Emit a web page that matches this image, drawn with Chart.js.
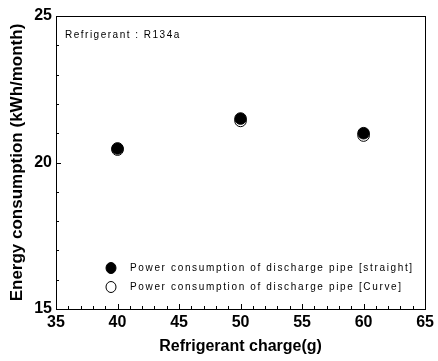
<!DOCTYPE html>
<html><head><meta charset="utf-8">
<script src="https://cdn.jsdelivr.net/npm/chart.js@4/dist/chart.umd.min.js"></script>
<style>html,body{margin:0;padding:0;background:#fff;}#wrap{width:438px;height:361px;}</style>
</head><body><div id="wrap"><canvas id="c" width="438" height="361"></canvas></div>
<script>
const charges = [40, 50, 60];
const straightValues = [20.48, 21.5, 21.0];
const curveValues = [20.44, 21.42, 20.92];
const xTicks = [35, 40, 45, 50, 55, 60, 65];
const yTicks = [15, 20, 25];
const seriesNames = ['Power consumption of discharge pipe [straight]', 'Power consumption of discharge pipe [Curve]'];
const annotationText = 'Refrigerant : R134a';

const FONT = '"Liberation Sans", Arial, sans-serif';

const decor = {
  id: 'decor',
  afterDraw(chart) {
    const ctx = chart.ctx, a = chart.chartArea;
    const xs = chart.scales.x, ys = chart.scales.y;
    ctx.save();
    ctx.strokeStyle = '#000'; ctx.lineWidth = 1;
    ctx.strokeRect(Math.round(a.left)+0.5, Math.round(a.top)+0.5, Math.round(a.right-a.left), Math.round(a.bottom-a.top));
    ctx.beginPath();
    for (let v = xs.min; v <= xs.max; v += 1) {
      const px = Math.round(xs.getPixelForValue(v)) + 0.5;
      const len = (v % 5 === 0) ? 5 : 3;
      ctx.moveTo(px, a.bottom); ctx.lineTo(px, a.bottom - len);
    }
    for (let v = ys.min; v <= ys.max; v += 1) {
      const py = Math.round(ys.getPixelForValue(v)) + 0.5;
      const len = (v % 5 === 0) ? 5 : 3;
      ctx.moveTo(a.left, py); ctx.lineTo(a.left + len, py);
    }
    ctx.stroke();
    // annotation
    ctx.fillStyle = '#000';
    ctx.font = '10px ' + FONT;
    ctx.letterSpacing = '1.5px';
    ctx.textBaseline = 'middle';
    ctx.textAlign = 'left';
    ctx.fillText(annotationText, a.left + 9, a.top + 19);
    // legend
    const styles = [
      {bg: '#000', border: '#000'},
      {bg: '#fff', border: '#000'}
    ];
    const lx = a.left + 55, ly0 = a.top + 252;
    ctx.letterSpacing = '1.65px';
    for (let i = 0; i < 2; i++) {
      const y = ly0 + i * 19;
      ctx.fillStyle = styles[i].bg; ctx.strokeStyle = styles[i].border; ctx.lineWidth = 1;
      ctx.beginPath(); ctx.ellipse(lx, y, 5, 5.5, 0, 0, Math.PI*2); ctx.fill(); ctx.stroke();
      ctx.fillStyle = '#000';
      ctx.fillText(seriesNames[i], lx + 19, y);
    }
    ctx.restore();
  }
};

new Chart(document.getElementById('c'), {
  type: 'scatter',
  data: {
    datasets: [
      { label: seriesNames[0], data: charges.map((x,i)=>({x, y: straightValues[i]})),
        pointRadius: 5.8, pointBackgroundColor: '#000', pointBorderColor: '#000', pointBorderWidth: 1 },
      { label: seriesNames[1], data: charges.map((x,i)=>({x, y: curveValues[i]})),
        pointRadius: 5.8, pointBackgroundColor: '#fff', pointBorderColor: '#000', pointBorderWidth: 1 }
    ]
  },
  options: {
    responsive: false, animation: false, devicePixelRatio: 1,
    layout: { padding: { left: 0, top: 16, right: 8, bottom: 0 } },
    plugins: { legend: { display: false }, tooltip: { enabled: false } },
    scales: {
      x: {
        type: 'linear', min: 35, max: 65,
        afterBuildTicks: s => { s.ticks = xTicks.map(v => ({value: v})); },
        afterFit: s => { s.height = 52; },
        grid: { display: false, drawTicks: false },
        border: { display: false },
        ticks: { color: '#000', font: { family: FONT, size: 16, weight: 'bold' }, padding: 4, maxRotation: 0 },
        title: { display: true, text: 'Refrigerant charge(g)', color: '#000', font: { family: FONT, size: 16, weight: 'bold' }, padding: { top: 0, bottom: 5 } }
      },
      y: {
        type: 'linear', min: 15, max: 25,
        afterBuildTicks: s => { s.ticks = yTicks.map(v => ({value: v})); },
        afterFit: s => { s.width = 56; },
        grid: { display: false, drawTicks: false },
        border: { display: false },
        ticks: { color: '#000', font: { family: FONT, size: 16, weight: 'bold' }, padding: 4 },
        title: { display: true, text: 'Energy consumption (kWh/month)', color: '#000', font: { family: FONT, size: 17, weight: 'bold' }, padding: { top: 7, bottom: 0 } }
      }
    }
  },
  plugins: [decor]
});
</script></body></html>
